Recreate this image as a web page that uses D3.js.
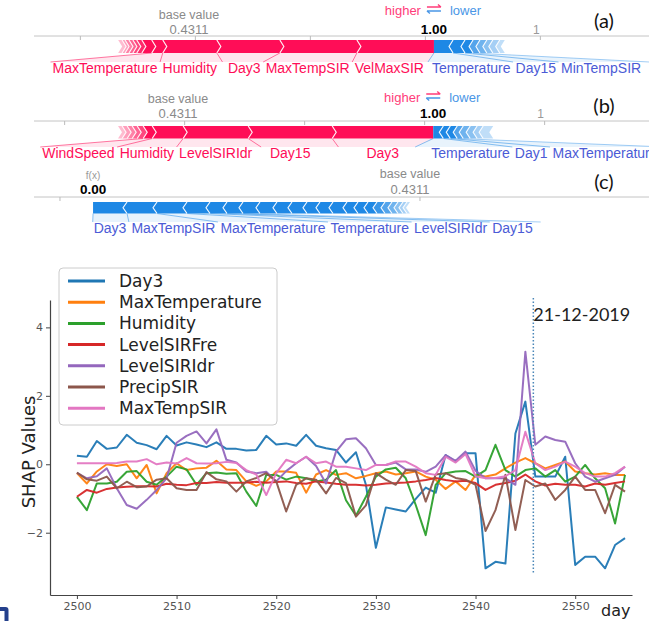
<!DOCTYPE html>
<html><head><meta charset="utf-8">
<script src="https://cdn.jsdelivr.net/npm/d3@7"></script>
<style>body{margin:0;background:#fff}svg{display:block}</style>
</head><body>
<svg id="c" width="664" height="621"></svg>
<script>
// ================= DATA =================
const baseValueLabel = "0.4311";
const baseLogit = -0.277;           // log-odds of the base value

// force plot (a): contributions in log-odds, ordered from f(x) outward
const aPosNames  = ["VelMaxSIR","MaxTempSIR","Day3","Humidity","MaxTemperature","","","","","","",""];
const aPosValues = [3.35,3.35,2.74,2.35,0.48,0.43,0.22,0.17,0.17,0.17,0.13,0.17];
const aNegNames  = ["Temperature","Day15","MinTempSIR","","","","",""];
const aNegValues = [0.83,0.52,0.35,0.30,0.30,0.26,0.30,0.22];
const aTicks = [-5,0,5,10,15];
const aTickLabels = ["","","","","1"];

// force plot (b)
const bPosNames  = ["Day3","Day15","LevelSIRIdr","Humidity","WindSpeed","","","","",""];
const bPosValues = [4.21,3.50,2.71,1.29,0.375,0.25,0.21,0.21,0.21,0.17];
const bNegNames  = ["Temperature","Day1","MaxTemperature","","","","",""];
const bNegValues = [0.42,0.29,0.29,0.25,0.29,0.29,0.25,0.42];
const bTicks = [-5,0,5,10,15];
const bTickLabels = ["","","","","1"];

// force plot (c)
const cPosNames  = [];
const cPosValues = [];
const cNegNames  = ["Day3","MaxTempSIR","MaxTemperature","Temperature","LevelSIRIdr","Day15",
                    "","","","","","","","","","","","","","","",""];
const cNegValues = [0.944,0.833,0.833,0.639,0.472,0.444,
                    0.472,0.472,0.417,0.417,0.361,0.361,0.389,0.306,0.278,0.25,0.222,0.194,0.167,0.139,0.111,0.083];
const cTicks = [-10,0];
const cTickLabels = ["",""];

// SHAP time series
const days = d3.range(2500, 2556);
const seriesNames = ["Day3","MaxTemperature","Humidity","LevelSIRFre","LevelSIRIdr","PrecipSIR","MaxTempSIR"];
const day3 = [0.25,0.22,0.68,0.45,0.49,0.86,0.63,0.56,0.44,0.83,
  0.55,0.64,0.58,0.5,0.64,0.45,0.45,0.40,0.42,0.83,
  0.58,0.61,0.54,0.86,0.54,0.47,0.42,0.05,0.35,-0.6,
  -2.44,-1.26,-1.32,-1.38,-1.01,-0.68,-0.83,0.27,0.08,0.32,
  0.32,-3.04,-2.85,-2.9,0.9,1.83,-0.36,-0.36,-0.36,0.22,
  -2.94,-2.7,-2.7,-3.04,-2.36,-2.16];
const maxTemperature = [-0.26,-0.56,-0.21,0.0,-0.05,0.0,-0.41,-0.02,-0.85,-0.26,
  0.03,-0.17,-0.12,-0.1,0.1,-0.15,-0.17,-0.5,-0.63,-0.5,
  -0.21,-0.21,-0.25,-0.83,-0.3,-0.17,-0.31,-0.26,-0.41,-0.34,
  -0.26,-0.21,-0.3,-0.26,-0.21,-0.36,-0.45,-0.72,-0.5,-0.75,
  -0.31,-0.36,-0.3,-0.12,0.05,0.18,0.03,-0.12,-0.02,0.08,
  -0.21,-0.26,-0.3,-0.26,-0.31,-0.31];
const humidity = [-0.95,-1.34,-0.56,-0.56,-0.51,-0.22,-0.2,-0.51,-0.6,-0.36,
  -0.07,-0.15,-0.6,-0.26,-0.24,-0.28,-0.26,-0.8,-1.22,-0.31,
  -0.31,-0.45,-0.36,-0.41,-0.5,-0.45,-0.17,-1.05,-1.5,-0.95,
  -0.36,-0.15,-0.1,-0.41,-1.19,-2.07,-0.6,-0.26,-0.21,-0.2,
  -0.36,-0.17,0.57,-0.17,-0.36,-0.17,-0.12,-0.36,-0.17,-0.51,
  -0.36,-0.02,-0.41,-0.7,-1.73,-0.31];
const levelSIRFre = [-0.95,-0.75,-0.83,-0.72,-0.68,-0.66,-0.64,-0.64,-0.65,-0.57,
  -0.6,-0.61,-0.55,-0.55,-0.52,-0.54,-0.54,-0.53,-0.51,-0.54,
  -0.52,-0.5,-0.55,-0.57,-0.5,-0.53,-0.57,-0.6,-0.6,-0.62,
  -0.6,-0.56,-0.55,-0.53,-0.5,-0.46,-0.4,-0.46,-0.5,-0.48,
  -0.55,-0.75,-0.6,-0.55,-0.48,-0.3,-0.5,-0.62,-0.57,-0.6,
  -0.6,-0.65,-0.56,-0.6,-0.55,-0.5];
const levelSIRIdr = [-0.25,-0.41,-0.35,-0.12,-0.7,-1.19,-1.3,-1.04,-0.75,-0.41,
  0.63,0.83,0.96,0.61,1.02,0.13,0.05,-0.21,-0.26,-0.22,
  -0.5,-0.2,0.03,0.22,-0.05,-0.56,0.37,0.73,0.76,0.47,
  -0.02,-0.02,0.05,-0.15,-0.15,-0.22,-0.07,0.27,0.1,0.37,
  -0.19,-0.41,-0.41,-0.41,-0.6,3.29,0.57,0.81,0.71,0.66,
  0.03,-0.36,-0.51,-0.41,-0.31,-0.07];
const precipSIR = [-0.24,-0.44,-0.48,-0.36,-0.7,-0.51,-0.67,-0.65,-0.45,-0.41,
  -0.7,-0.75,-0.75,-0.23,-0.44,-0.5,-0.8,-0.5,-0.4,-0.26,
  -0.5,-1.38,-0.6,-0.41,-0.45,-0.85,-0.4,-0.55,-1.53,-1.2,
  -0.26,-0.45,-0.6,-0.17,-0.2,-1.09,-0.3,-0.26,-0.4,-0.45,
  -0.6,-1.95,-1.34,-0.31,-1.92,-0.46,-0.65,-0.56,-1.04,-0.75,
  -0.36,-0.75,-0.75,-1.43,-0.6,-0.8];
const maxTempSIR = [0.03,0.03,0.03,0.03,0.04,0.08,0.08,0.15,0.0,0.05,
  0.02,0.18,0.03,0.02,0.03,0.07,0.04,-0.17,-0.3,-0.9,
  -0.26,0.13,0.03,0.22,0.03,0.08,-0.07,-0.07,-0.12,-0.17,
  -0.02,-0.02,0.08,0.08,-0.07,-0.26,-0.31,0.22,0.05,0.3,
  -0.35,-0.41,-0.4,-0.35,-0.17,0.95,0.03,-0.17,-0.07,0.08,
  -0.07,-0.26,-0.36,-0.36,-0.26,-0.07];
const yTicks = [-2,0,2,4];
const xTicks = [2500,2510,2520,2530,2540,2550];
const markerDay = 2545.8;
const markerLabel = "21-12-2019";

// ================= DRAW =================
const svg = d3.select("#c");
const RED = "#ff0d57", BLUE = "#1e88e5";
const RED_TXT = "#ff0d57", BLUE_TXT = "#4b5bd6";
const FONT = "'Liberation Sans', Arial, sans-serif";
const TAGFONT = "Lato, 'Open Sans', sans-serif";

svg.append("defs").append("clipPath").attr("id","fclip")
  .append("rect").attr("x",0).attr("y",0).attr("width",649).attr("height",250);

function drawForce(cfg){
  const g = svg.append("g").attr("clip-path","url(#fclip)");
  const x = d3.scaleLinear().domain([baseLogit, baseLogit + cfg.span]).range(cfg.range);
  const fx = baseLogit + d3.sum(cfg.posValues) - d3.sum(cfg.negValues);
  const top = cfg.barTop, bot = cfg.barTop + cfg.barH, mid = (top+bot)/2, tip = 4;

  // axis
  g.append("line").attr("x1",34).attr("x2",651).attr("y1",cfg.axisY).attr("y2",cfg.axisY)
    .attr("stroke","#c4c4c4").attr("stroke-width",1);
  cfg.ticks.forEach((t,i)=>{
    g.append("line").attr("x1",x(t)).attr("x2",x(t)).attr("y1",cfg.axisY).attr("y2",cfg.axisY+4)
      .attr("stroke","#bbb");
    if (cfg.tickLabels[i]) g.append("text").attr("x",x(t)-4).attr("y",cfg.valueY)
      .attr("text-anchor","middle").attr("font-family",FONT).attr("font-size",12).attr("fill","#999")
      .text(cfg.tickLabels[i]);
  });

  // segments
  const segs = [];
  let cur = fx;
  cfg.posNames.forEach((n,i)=>{ const v=cfg.posValues[i]; segs.push({name:n,x0:cur-v,x1:cur,pos:true,i}); cur-=v; });
  cur = fx;
  cfg.negNames.forEach((n,i)=>{ const v=cfg.negValues[i]; segs.push({name:n,x0:cur,x1:cur+v,pos:false,i}); cur+=v; });

  function tailOpacity(list, s){
    const unl = list.filter(d=>!d.name);
    const j = unl.indexOf(s); if (j<0) return 1;
    const t = j - (unl.length - 6) + 1;
    return t<=0 ? 1 : 1 - 0.12*t;
  }
  const posS = segs.filter(s=>s.pos), negS = segs.filter(s=>!s.pos);

  // label layout
  const posL = posS.filter(s=>s.name), negL = negS.filter(s=>s.name);
  const gap = 5;
  const labelG = g.append("g");
  let limit = x(fx) - 10;
  posL.forEach(s=>{
    const t = labelG.append("text").attr("font-family",FONT).attr("font-size",14).attr("fill",RED_TXT)
      .attr("y",cfg.labelY).text(s.name);
    s.w = t.node().getComputedTextLength();
    const c = (x(s.x0)+x(s.x1))/2;
    const r = Math.min(c + s.w/2, limit);
    s.lx0 = r - s.w; s.lx1 = r; limit = s.lx0 - gap;
    t.attr("x", s.lx0);
  });
  limit = x(fx) - 2;
  negL.forEach(s=>{
    const t = labelG.append("text").attr("font-family",FONT).attr("font-size",14).attr("fill",BLUE_TXT)
      .attr("y",cfg.labelY).text(s.name);
    s.w = t.node().getComputedTextLength();
    const c = (x(s.x0)+x(s.x1))/2;
    const l = Math.max(c - s.w/2, limit);
    s.lx0 = l; s.lx1 = l + s.w; limit = s.lx1 + gap;
    t.attr("x", s.lx0);
  });

  // dividers & backings
  const lt = cfg.labelY - 11;
  const back = g.insert("g", ":first-child");
  posL.forEach((s,k)=>{
    const left = (k+1<posL.length) ? (posL[k+1].lx1 + s.lx0)/2 : s.lx0 - 2;
    const right = (k===0) ? (negL.length ? (s.lx1 + negL[0].lx0)/2 : s.lx1 + 2) : (s.lx1 + posL[k-1].lx0)/2;
    back.append("path").attr("d",`M${x(s.x0)},${bot}L${x(s.x1)},${bot}L${right},${lt}L${left},${lt}Z`)
      .attr("fill",RED).attr("opacity",0.1);
    back.append("line").attr("x1",x(s.x0)).attr("y1",bot).attr("x2",left).attr("y2",lt)
      .attr("stroke",RED).attr("stroke-opacity",0.55).attr("stroke-width",1);
  });
  negL.forEach((s,k)=>{
    const left = (k===0) ? (posL.length ? (posL[0].lx1 + s.lx0)/2 : s.lx0 - 1) : (negL[k-1].lx1 + s.lx0)/2;
    const right = (k+1<negL.length) ? (s.lx1 + negL[k+1].lx0)/2 : s.lx1 + 8;
    back.append("path").attr("d",`M${x(s.x0)},${bot}L${x(s.x1)},${bot}L${right},${lt}L${left},${lt}Z`)
      .attr("fill",BLUE).attr("opacity",0.1);
    back.append("line").attr("x1",x(s.x0)).attr("y1",bot).attr("x2",left).attr("y2",lt)
      .attr("stroke",BLUE).attr("stroke-opacity",0.5).attr("stroke-width",1);
    if (k===negL.length-1)
      back.append("line").attr("x1",x(s.x1)).attr("y1",bot).attr("x2",right).attr("y2",lt)
        .attr("stroke",BLUE).attr("stroke-opacity",0.4).attr("stroke-width",1);
  });

  // bar segments
  segs.forEach(s=>{
    const a = x(s.x0), b = x(s.x1);
    let d;
    if (s.pos){
      const rt = s.i===0 ? 0 : tip;
      d = `M${a},${top}L${b},${top}L${b+rt},${mid}L${b},${bot}L${a},${bot}L${a+tip},${mid}Z`;
    } else {
      const lt2 = s.i===0 ? 0 : tip;
      d = `M${a},${top}L${b},${top}L${b-tip},${mid}L${b},${bot}L${a},${bot}L${a-lt2},${mid}Z`;
    }
    g.append("path").attr("d",d).attr("fill", s.pos?RED:BLUE)
      .attr("fill-opacity", tailOpacity(s.pos?posS:negS, s));
  });
  // white chevrons
  segs.forEach(s=>{
    if (s.i===0) return;
    const b = s.pos ? x(s.x1) : x(s.x0);
    const d = s.pos ? `M${b},${top}L${b+tip},${mid}L${b},${bot}` : `M${b},${top}L${b-tip},${mid}L${b},${bot}`;
    g.append("path").attr("d",d).attr("fill","none").attr("stroke","#fff").attr("stroke-width",1.2)
      .attr("stroke-opacity",0.9);
  });

  // base value & f(x) labels
  const bx = x(baseLogit);
  g.append("text").attr("x",bx).attr("y",cfg.baseTitleY).attr("text-anchor","middle")
    .attr("font-family",FONT).attr("font-size",12.5).attr("fill","#8a8a8a").text("base value");
  g.append("text").attr("x",bx).attr("y",cfg.valueY).attr("text-anchor","middle")
    .attr("font-family",FONT).attr("font-size",13).attr("fill","#8a8a8a").text(baseValueLabel);
  const fxp = x(fx);
  const prob = 1/(1+Math.exp(-fx));
  g.append("text").attr("x",fxp).attr("y",cfg.valueY).attr("text-anchor","middle")
    .attr("font-family",FONT).attr("font-size",13.5).attr("font-weight","bold").attr("fill","#000")
    .text(d3.format(".2f")(prob));
  if (cfg.showFx){
    g.append("text").attr("x",fxp).attr("y",cfg.valueY-15).attr("text-anchor","middle")
      .attr("font-family",FONT).attr("font-size",10).attr("fill","#999").text("f(x)");
  }
  if (cfg.showHL){
    const y0 = cfg.hlY;
    g.append("text").attr("x",fxp-13).attr("y",y0).attr("text-anchor","end")
      .attr("font-family",FONT).attr("font-size",13).attr("fill","#ff3d7a").text("higher");
    g.append("text").attr("x",fxp+16).attr("y",y0).attr("text-anchor","start")
      .attr("font-family",FONT).attr("font-size",13).attr("fill","#4a96e6").text("lower");
    g.append("path").attr("d",`M${fxp-7},${y0-8}L${fxp+7},${y0-8}M${fxp+4},${y0-10.5}L${fxp+7},${y0-8}`)
      .attr("stroke","#ff3d7a").attr("stroke-width",1.4).attr("fill","none");
    g.append("path").attr("d",`M${fxp+7},${y0-4}L${fxp-7},${y0-4}M${fxp-4},${y0-1.5}L${fxp-7},${y0-4}`)
      .attr("stroke","#4a96e6").attr("stroke-width",1.4).attr("fill","none");
  }
  svg.append("text").attr("x",604).attr("y",cfg.tagY).attr("text-anchor","middle")
    .attr("font-family",TAGFONT).attr("font-size",20).attr("fill","#111").text(cfg.tag);
}

drawForce({posNames:aPosNames,posValues:aPosValues,negNames:aNegNames,negValues:aNegValues,
  ticks:aTicks,tickLabels:aTickLabels,span:10,range:[189,419],
  axisY:36,barTop:40,barH:13,labelY:73,baseTitleY:19,valueY:34,hlY:15,showHL:true,showFx:false,
  tag:"(a)",tagY:28});
drawForce({posNames:bPosNames,posValues:bPosValues,negNames:bNegNames,negValues:bNegValues,
  ticks:bTicks,tickLabels:bTickLabels,span:10,range:[178,418],
  axisY:121,barTop:126,barH:12.5,labelY:158,baseTitleY:103,valueY:118,hlY:102,showHL:true,showFx:false,
  tag:"(b)",tagY:113});
drawForce({posNames:cPosNames,posValues:cPosValues,negNames:cNegNames,negValues:cNegValues,
  ticks:cTicks,tickLabels:cTickLabels,span:-10,range:[410,50],
  axisY:197,barTop:202,barH:11.5,labelY:233,baseTitleY:178,valueY:194,hlY:0,showHL:false,showFx:true,
  tag:"(c)",tagY:189});

// ---------- line chart ----------
const MPL = "'DejaVu Sans', sans-serif";
const x = d3.scaleLinear().domain([2497.3, 2555.7]).range([50, 632]);
const y = d3.scaleLinear().domain([-3.82, 4.8]).range([595, 300]);
const colors = ["#1f77b4","#ff7f0e","#2ca02c","#d62728","#9467bd","#8c564b","#e377c2"];
const seriesValues = [day3, maxTemperature, humidity, levelSIRFre, levelSIRIdr, precipSIR, maxTempSIR];

const line = d3.line().x((d,i)=>x(days[i])).y(d=>y(d));
const lg = svg.append("g");
seriesValues.forEach((vals,si)=>{
  lg.append("path").datum(vals).attr("d",line).attr("fill","none")
    .attr("stroke",colors[si]).attr("stroke-width",2).attr("stroke-linejoin","round").attr("stroke-opacity",0.95);
});

// marker
svg.append("line").attr("x1",x(markerDay)).attr("x2",x(markerDay)).attr("y1",298).attr("y2",y(-3.2))
  .attr("stroke","#4a86b8").attr("stroke-width",1.5).attr("stroke-dasharray","1.5,2");
svg.append("text").attr("x",x(markerDay)).attr("y",321).attr("font-family",TAGFONT).attr("font-size",18)
  .attr("fill","#222").text(markerLabel);

// axes
const yAxis = svg.append("g").attr("transform","translate(50,0)")
  .call(d3.axisLeft(y).tickValues(yTicks).tickSize(4).tickSizeOuter(0));
const xAxis = svg.append("g").attr("transform","translate(0,595)")
  .call(d3.axisBottom(x).tickValues(xTicks).tickFormat(d3.format("d")).tickSize(4).tickSizeOuter(0));
[yAxis,xAxis].forEach(a=>{
  a.selectAll("path.domain").attr("stroke","#444").attr("stroke-width",1.2);
  a.selectAll(".tick line").attr("stroke","#444");
  a.selectAll("text").attr("font-family",MPL).attr("font-size",11).attr("fill","#555");
});

svg.append("text").attr("transform","translate(35,452) rotate(-90)").attr("text-anchor","middle")
  .attr("font-family",MPL).attr("font-size",18).attr("fill","#222").text("SHAP Values");
svg.append("text").attr("x",601).attr("y",616).attr("font-family",MPL).attr("font-size",16)
  .attr("fill","#222").text("day");

// legend
const leg = svg.append("g");
leg.append("rect").attr("x",59).attr("y",268).attr("width",218).attr("height",157).attr("rx",4)
  .attr("fill","#fff").attr("fill-opacity",0.85).attr("stroke","#ccc");
seriesNames.forEach((n,i)=>{
  const yy = 281 + i*21.2;
  leg.append("line").attr("x1",68).attr("x2",105).attr("y1",yy).attr("y2",yy)
    .attr("stroke",colors[i]).attr("stroke-width",3);
  leg.append("text").attr("x",119).attr("y",yy+6).attr("font-family",MPL).attr("font-size",17)
    .attr("fill","#222").text(n);
});

// stray fragment at the bottom-left corner
svg.append("path").attr("d","M0,607L5.5,607Q8.5,607 8.5,610L8.5,621L4.5,621L4.5,611L0,611Z").attr("fill","#24408c");
</script>
</body></html>
